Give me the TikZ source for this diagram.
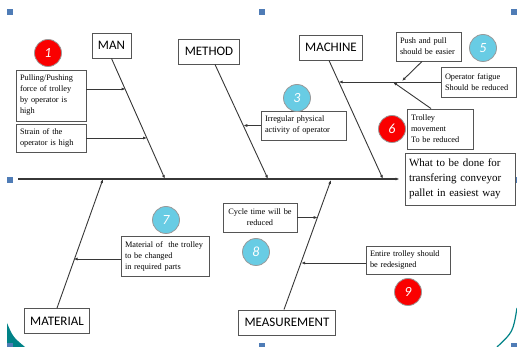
\documentclass[tikz,border=0pt]{standalone}
\usepackage{fontspec}
\setmainfont{Liberation Serif}
\newfontfamily\catfont{Carlito}
\usetikzlibrary{arrows.meta}
\definecolor{bonegray}{RGB}{55,55,55}
\definecolor{boxgray}{RGB}{85,85,85}
\definecolor{dotred}{RGB}{250,0,0}
\definecolor{dotcyan}{RGB}{104,204,228}
\definecolor{handleblue}{RGB}{79,124,182}
\definecolor{slideteal}{RGB}{0,130,135}
\tikzset{
  cat/.style={draw=boxgray, fill=white, line width=0.9pt,
    font=\catfont\fontsize{13}{15}\selectfont,
    inner xsep=6pt, inner ysep=0pt, minimum height=25pt},
  cause/.style={draw=boxgray, fill=white, line width=0.9pt,
    font=\fontsize{8.3}{11}\selectfont, align=left,
    inner xsep=4pt, inner ysep=2pt},
  effect/.style={cause, font=\fontsize{11}{15}\selectfont},
  reddot/.style={circle, fill=dotred, draw=black!40, line width=0.8pt,
    minimum size=27pt, inner sep=0pt, text=white,
    font=\catfont\itshape\fontsize{14}{14}\selectfont},
  cyandot/.style={reddot, fill=dotcyan},
  handle/.style={fill=handleblue, minimum size=6pt, inner sep=0pt}
}
\begin{document}
\begin{tikzpicture}[x=1pt, y=-1pt, >={Latex[length=4pt,width=3pt]}]
  \useasboundingbox (0,0) rectangle (517,347);
  % slide leftovers
  \fill[slideteal] (7,323) .. controls (13,337) .. (25,347) -- (7,347) -- cycle;
  \draw[slideteal, line width=1.2pt] (517,308) .. controls (513,332) .. (497,347);
  \foreach \hx/\hy in {10/12,262/12,514/12,10/180,514/180,10/346,262/346,514/346}
    \node[handle] at (\hx,\hy) {};
  % categories, causes, effect
  \draw
    (111.5,45.5) node[cat] (man){MAN}
    (209,51.5) node[cat] (method){METHOD}
    (331,47.5) node[cat] (machine){MACHINE}
    (57,321) node[cat] (material){MATERIAL}
    (287,322.5) node[cat] (measure){MEASUREMENT}
    (51,95.5) node[cause, text width=62pt, minimum height=51pt] (c1){Pulling/Pushing\\force of trolley\\by operator is\\high}
    (51,138) node[cause, text width=62pt, minimum height=28pt] (c2){Strain of the\\operator is high}
    (303.5,125.5) node[cause, text width=77pt, minimum height=29pt] (c3){Irregular physical\\activity of operator}
    (428.5,46.5) node[cause, text width=57pt, minimum height=29pt] (push){Push and pull\\should be easier}
    (478.5,82) node[cause, text width=67pt, minimum height=30pt] (fatigue){Operator fatigue\\Should be reduced}
    (440,129) node[cause, text width=58pt, minimum height=40pt] (trolley){Trolley\\movement\\To be reduced}
    (165,256) node[cause, text width=80pt, minimum height=40pt] (mat){Material of\ \ the trolley\\to be changed\\in required parts}
    (260,217.5) node[cause, align=center, text width=66pt, minimum height=29pt] (cycle){Cycle time will be\\reduced}
    (408,260) node[cause, text width=76pt, minimum height=28pt] (entire){Entire trolley should\\be redesigned}
    (460,179) node[effect, text width=102pt, minimum height=52pt] (effect){What to be done for\\transfering conveyor\\pallet in easiest way};
  % numbers
  \draw
    (48,53) node[reddot] (n1){1}
    (297,98) node[cyandot] (n3){3}
    (483,48) node[cyandot] (n5){5}
    (392,129) node[reddot] (n6){6}
    (166,220) node[cyandot] (n7){7}
    (256,252) node[cyandot] (n8){8}
    (408,292) node[reddot] (n9){9};
  % points on the bones
  \coordinate (tail) at (18,179);
  \coordinate (s1) at (165,179);
  \coordinate (s2) at (268,179);
  \coordinate (s3) at (383,179);
  \coordinate (s4) at (103,179);
  \coordinate (s5) at (331,180);
  \coordinate (m1) at (125.6,89);
  \coordinate (m2) at (147,138);
  \coordinate (d1) at (243.3,125.5);
  \coordinate (k1) at (338.6,82);
  \coordinate (k2) at (402,81);
  \coordinate (k3) at (393,82);
  \coordinate (t1) at (73.6,259);
  \coordinate (r1) at (317.7,217.5);
  \coordinate (r2) at (301.1,263);
  \begin{scope}[->, draw=bonegray, line width=0.9pt]
    \draw[line width=1.1pt, shorten >=5pt] (tail) to (effect.west);
    \draw (man.south) to (s1);
    \draw ([xshift=6pt]method.south) to (s2);
    \draw ([xshift=-2pt]machine.south) to (s3);
    \draw (material.north) to (s4);
    \draw ([xshift=-3pt]measure.north) to (s5);
    \draw ([yshift=6.5pt]c1.east) to (m1);
    \draw (c2.east) to (m2);
    \draw (c3.west) to (d1);
    \draw (fatigue.west) to (k1);
    \draw ([xshift=-6.5pt]push.south) to (k2);
    \draw ([xshift=-9pt]trolley.north) to (k3);
    \draw ([yshift=-3pt]mat.west) to (t1);
    \draw (cycle.east) to (r1);
    \draw ([yshift=-3pt]entire.west) to (r2);
  \end{scope}
\end{tikzpicture}
\end{document}
